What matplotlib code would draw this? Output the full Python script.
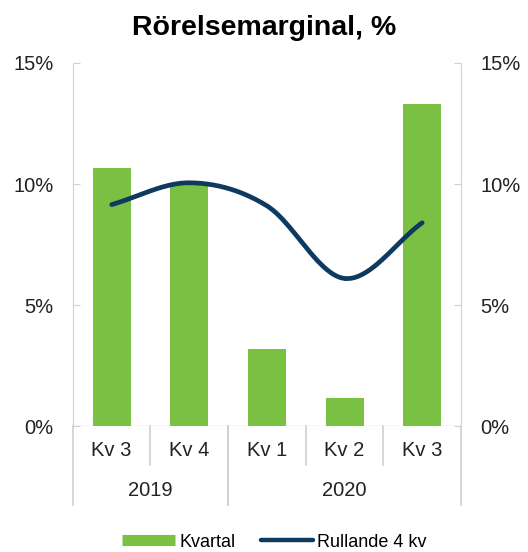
import matplotlib.pyplot as plt
import numpy as np
from matplotlib.lines import Line2D
from matplotlib.ticker import FuncFormatter

plt.rcParams["font.family"] = ["Liberation Sans", "DejaVu Sans"]

quarters = ["Kv 3", "Kv 4", "Kv 1", "Kv 2", "Kv 3"]
years = ["2019", "2020"]
year_spans = [(0, 2), (2, 5)]
kvartal = [10.65, 10.05, 3.2, 1.15, 13.3]
rullande = [9.15, 10.05, 9.1, 6.1, 8.4]

green = "#7AC143"
navy = "#0F3A5F"
grey = "#D0D0D0"


def smooth(xs, ys, n=40):
    # catmull-rom style smoothing, like excel's smoothed line
    xs = np.asarray(xs, float)
    ys = np.asarray(ys, float)
    px = np.concatenate([[2 * xs[0] - xs[1]], xs, [2 * xs[-1] - xs[-2]]])
    py = np.concatenate([[2 * ys[0] - ys[1]], ys, [2 * ys[-1] - ys[-2]]])
    outx, outy = [], []
    t = np.linspace(0, 1, n)
    for i in range(1, len(px) - 2):
        for arr, out in ((px, outx), (py, outy)):
            p0, p1, p2, p3 = arr[i - 1], arr[i], arr[i + 1], arr[i + 2]
            out.extend(0.5 * (2 * p1 + (-p0 + p2) * t
                              + (2 * p0 - 5 * p1 + 4 * p2 - p3) * t ** 2
                              + (-p0 + 3 * p1 - 3 * p2 + p3) * t ** 3))
    return np.array(outx), np.array(outy)


fig = plt.figure(figsize=(5.28, 5.52), dpi=100)
ax = fig.add_axes([0.138, 0.228, 0.735, 0.658])

x = np.arange(len(quarters))
ax.bar(x, kvartal, width=0.49, color=green, zorder=2)
sx, sy = smooth(x, rullande)
ax.plot(sx, sy, color=navy, lw=3.4, solid_capstyle="round", zorder=3)

ax.set_xlim(-0.5, len(quarters) - 0.5)
ax.set_ylim(0, 15)
ax.set_yticks([0, 5, 10, 15])
ax.yaxis.set_major_formatter(FuncFormatter(lambda v, p: f"{v:.0f}%"))
ax.tick_params(axis="y", direction="in", length=5, color=grey, labelsize=14.5,
               labelcolor="#222222", pad=14, right=True, labelright=True)
ax.set_xticks([])
for s in ["top", "bottom"]:
    ax.spines[s].set_visible(False)
for s in ["left", "right"]:
    ax.spines[s].set_color(grey)
    ax.spines[s].set_linewidth(0.8)
    ax.spines[s].set_linestyle((0, (2, 1)))
ax.axhline(0, color=grey, lw=1, zorder=1)

trans = ax.get_xaxis_transform()
for i, q in enumerate(quarters):
    ax.text(i, -0.066, q, transform=trans, ha="center", va="center",
            fontsize=14.5, color="#222222")
for i in range(1, len(quarters)):
    ax.plot([i - 0.5, i - 0.5], [0, -0.107], transform=trans, color=grey,
            lw=1.2, clip_on=False)
for (a, b), y in zip(year_spans, years):
    ax.text((a + b - 1) / 2, -0.176, y, transform=trans, ha="center",
            va="center", fontsize=14.5, color="#222222")
    for e in (a, b):
        ax.plot([e - 0.5, e - 0.5], [0, -0.218], transform=trans, color=grey,
                lw=1.2, clip_on=False)

fig.suptitle("Rörelsemarginal, %", x=0.5, y=0.972, fontsize=20.5,
             fontweight="bold")

handles = [Line2D([], [], color=green, lw=8, solid_capstyle="butt"),
           Line2D([], [], color=navy, lw=3.2, solid_capstyle="round")]
fig.legend(handles, ["Kvartal", "Rullande 4 kv"], loc="center",
           bbox_to_anchor=(0.52, 0.018), ncol=2, frameon=False, fontsize=13,
           handlelength=2.9, handletextpad=0.25, columnspacing=1.4)

fig.savefig("out.png", dpi=100)
